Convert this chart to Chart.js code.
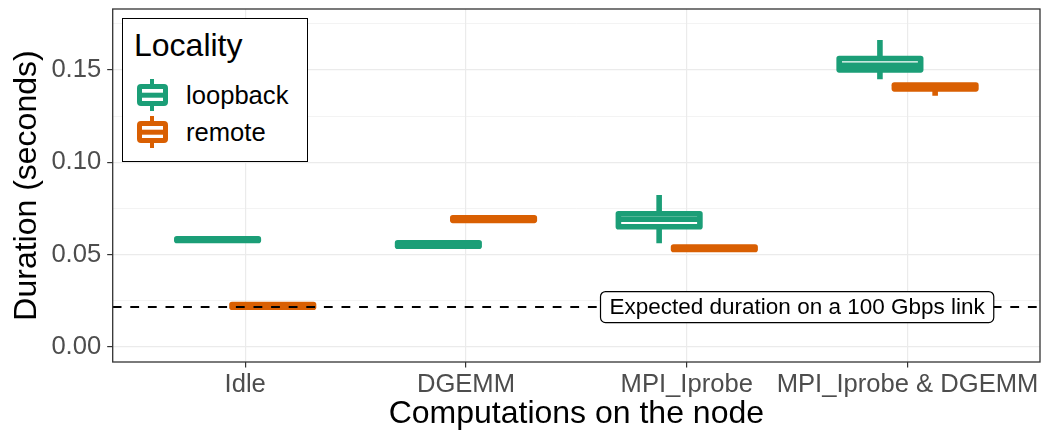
<!DOCTYPE html>
<html>
<head>
<meta charset="utf-8">
<title>Duration by computation and locality</title>
<script src="https://cdn.jsdelivr.net/npm/chart.js@4.4.1/dist/chart.umd.min.js"></script>
<style>
  html, body { margin: 0; padding: 0; background: #fff; }
  #wrap { position: relative; width: 1051px; height: 436px; font-family: "Liberation Sans", Arial, sans-serif; }
  #chart { position: absolute; left: 0; top: 0; }

  /* legend sits inside the panel, top-left */
  .legend { position: absolute; left: 122px; top: 18px; width: 186px; height: 144px; box-sizing: border-box; border: 1.6px solid #000; background: #fff; }
  .legend-title { position: absolute; left: 11px; top: 10px; font-size: 32px; line-height: 32px; color: #000; }
  .legend-row { position: absolute; left: 0; width: 100%; height: 32px; }
  .key-whisker { position: absolute; left: 26.5px; top: 0; width: 4.4px; height: 32px; }
  .key-box { position: absolute; left: 13.5px; top: 5px; width: 31px; height: 22px; box-sizing: border-box; border: 5.4px solid; border-radius: 4px; background: #fff; }
  .key-box::after { content: ''; position: absolute; left: 0; right: 0; top: 50%; height: 4.6px; transform: translateY(-50%); background: currentColor; }
  .legend-label { position: absolute; left: 63px; top: 0; font-size: 25.6px; line-height: 32px; color: #000; }
</style>
</head>
<body>
<div id="wrap">
  <canvas id="chart" width="1051" height="436"></canvas>
  <div class="legend" id="legend">
    <div class="legend-title">Locality</div>
  </div>
</div>

<script>
// categories on the x axis
const categories = ['Idle', 'DGEMM', 'MPI_Iprobe', 'MPI_Iprobe & DGEMM'];
const seriesNames = ['loopback', 'remote'];
const seriesColors = ['#1B9E77', '#D95F02'];

// box statistics per category (seconds)
const loopbackLow    = [0.0573, 0.0542, 0.0561, 0.1450];
const loopbackQ1     = [0.0576, 0.0545, 0.0650, 0.1501];
const loopbackMedian = [0.0580, 0.0554, 0.0691, 0.1526];
const loopbackQ3     = [0.0585, 0.0563, 0.0721, 0.1563];
const loopbackHigh   = [0.0588, 0.0566, 0.0823, 0.1663];

const remoteLow    = [0.0211, 0.0682, 0.0524, 0.1361];
const remoteQ1     = [0.0214, 0.0685, 0.0527, 0.1398];
const remoteMedian = [0.0222, 0.0692, 0.0534, 0.1408];
const remoteQ3     = [0.0229, 0.0699, 0.0540, 0.1418];
const remoteHigh   = [0.0232, 0.0702, 0.0543, 0.1421];

const yMajorTicks = [0, 0.05, 0.10, 0.15];
const yMinorTicks = [0.025, 0.075, 0.125, 0.175];

const expectedDuration = 0.0215;
const expectedLabel = 'Expected duration on a 100 Gbps link';

const FONT = '"Liberation Sans", Arial, sans-serif';
const LINE_W = 5.6;      // box outline width, like ggplot's size
const DODGE = 0.125;     // half the dodge distance, in category units

const stats = [
  { low: loopbackLow, q1: loopbackQ1, med: loopbackMedian, q3: loopbackQ3, high: loopbackHigh },
  { low: remoteLow, q1: remoteQ1, med: remoteMedian, q3: remoteQ3, high: remoteHigh },
];

/* legend rows (html, drawn over the canvas) */
function buildLegend() {
  const legend = document.getElementById('legend');
  seriesNames.forEach((name, i) => {
    const row = document.createElement('div');
    row.className = 'legend-row';
    row.style.top = (60 + i * 37) + 'px';
    row.innerHTML =
      `<div class="key-whisker" style="background:${seriesColors[i]}"></div>` +
      `<div class="key-box" style="color:${seriesColors[i]};border-color:${seriesColors[i]}"></div>` +
      `<div class="legend-label">${name}</div>`;
    legend.appendChild(row);
  });
}

/* whiskers, outline and median drawn on top of the floating bars */
const boxplotGlyphs = {
  id: 'boxplotGlyphs',
  afterDatasetsDraw(chart) {
    const { ctx, chartArea } = chart;
    const y = chart.scales.y;
    ctx.save();
    ctx.beginPath();
    ctx.rect(chartArea.left, chartArea.top, chartArea.width, chartArea.height);
    ctx.clip();
    chart.data.datasets.forEach((ds, di) => {
      const s = stats[di];
      const meta = chart.getDatasetMeta(di);
      ctx.strokeStyle = ds.borderColor;
      ctx.lineWidth = LINE_W;
      meta.data.forEach((bar, i) => {
        const left = bar.x - bar.width / 2;
        const right = bar.x + bar.width / 2;
        const pLow = y.getPixelForValue(s.low[i]);
        const pHigh = y.getPixelForValue(s.high[i]);
        const pQ1 = y.getPixelForValue(s.q1[i]);
        const pQ3 = y.getPixelForValue(s.q3[i]);
        const pMed = y.getPixelForValue(s.med[i]);

        ctx.lineCap = 'butt';
        ctx.beginPath();
        ctx.moveTo(bar.x, pQ3);
        ctx.lineTo(bar.x, pHigh);
        ctx.moveTo(bar.x, pQ1);
        ctx.lineTo(bar.x, pLow);
        ctx.stroke();

        ctx.lineJoin = 'round';
        ctx.beginPath();
        ctx.rect(left, pQ3, right - left, pQ1 - pQ3);
        ctx.stroke();

        ctx.beginPath();
        ctx.moveTo(left, pMed);
        ctx.lineTo(right, pMed);
        ctx.stroke();
      });
    });
    ctx.restore();
  },
};

/* dashed reference line with its label, then the panel border */
const referenceLine = {
  id: 'referenceLine',
  afterDatasetsDraw(chart) {
    const { ctx, chartArea } = chart;
    const x = chart.scales.x;
    const py = chart.scales.y.getPixelForValue(expectedDuration);
    ctx.save();
    ctx.strokeStyle = '#000';
    ctx.lineWidth = 2;
    ctx.setLineDash([8.8, 8.8]);
    ctx.beginPath();
    ctx.moveTo(chartArea.left, py);
    ctx.lineTo(chartArea.right, py);
    ctx.stroke();
    ctx.setLineDash([]);

    ctx.font = `22.5px ${FONT}`;
    const w = ctx.measureText(expectedLabel).width + 18;
    const h = 31;
    const cx = x.getPixelForValue(3.5);
    ctx.beginPath();
    ctx.roundRect(cx - w / 2, py - h / 2, w, h, 5);
    ctx.fillStyle = '#fff';
    ctx.fill();
    ctx.lineWidth = 1.2;
    ctx.stroke();
    ctx.fillStyle = '#000';
    ctx.textAlign = 'center';
    ctx.textBaseline = 'middle';
    ctx.fillText(expectedLabel, cx, py + 1);
    ctx.restore();
  },
  afterDraw(chart) {
    const { ctx, chartArea } = chart;
    ctx.save();
    ctx.strokeStyle = '#333';
    ctx.lineWidth = 1.3;
    ctx.strokeRect(chartArea.left, chartArea.top, chartArea.width, chartArea.height);
    ctx.restore();
  },
};

function makeDataset(i, s) {
  const offset = i === 0 ? -DODGE : DODGE;
  return {
    label: seriesNames[i],
    data: categories.map((c, k) => ({ x: k + 1 + offset, y: [s.q1[k], s.q3[k]] })),
    backgroundColor: '#fff',
    borderColor: seriesColors[i],
    borderWidth: 0,
    barThickness: 81.5,
    grouped: false,
  };
}

function initChart() {
  const ctx = document.getElementById('chart');
  new Chart(ctx, {
    type: 'bar',
    data: { datasets: stats.map((s, i) => makeDataset(i, s)) },
    options: {
      responsive: false,
      animation: false,
      devicePixelRatio: 1,
      layout: { padding: { top: 9, right: 11, left: 0, bottom: 0 } },
      plugins: {
        legend: { display: false },
        tooltip: { enabled: false },
      },
      scales: {
        x: {
          type: 'linear',
          min: 0.4,
          max: 4.6,
          offset: false,
          afterBuildTicks: (scale) => {
            scale.ticks = categories.map((c, k) => ({ value: k + 1 }));
          },
          afterFit: (scale) => {
            scale.height = 74;
            scale.paddingLeft = 0;
            scale.paddingRight = 0;
          },
          border: { display: false },
          grid: { offset: false, color: '#EBEBEB', lineWidth: 1.2, tickColor: '#333', tickWidth: 1.2, tickLength: 5.5 },
          ticks: {
            callback: (v) => categories[Math.round(v) - 1],
            color: '#4D4D4D',
            font: { family: FONT, size: 25.6 },
            padding: 2,
            maxRotation: 0,
            autoSkip: false,
          },
          title: {
            display: true,
            text: 'Computations on the node',
            color: '#000',
            font: { family: FONT, size: 32, lineHeight: 1 },
            padding: { top: 0, bottom: 6 },
          },
        },
        y: {
          min: -0.0083,
          max: 0.1831,
          afterBuildTicks: (scale) => {
            scale.ticks = yMajorTicks.concat(yMinorTicks).map((v) => ({ value: v }));
          },
          afterFit: (scale) => {
            scale.width = 112.7;
            scale.paddingTop = 0;
            scale.paddingBottom = 0;
          },
          border: { display: false },
          grid: {
            color: '#EBEBEB',
            lineWidth: (c) => (yMajorTicks.includes(c.tick.value) ? 1.2 : 0.6),
            tickColor: (c) => (yMajorTicks.includes(c.tick.value) ? '#333' : 'rgba(0,0,0,0)'),
            tickWidth: 1.2,
            tickLength: 5.5,
          },
          ticks: {
            callback: (v) => (yMajorTicks.includes(v) ? v.toFixed(2) : ''),
            color: '#4D4D4D',
            font: { family: FONT, size: 25.6 },
            padding: 6,
            autoSkip: false,
          },
          title: {
            display: true,
            text: 'Duration (seconds)',
            color: '#000',
            font: { family: FONT, size: 32, lineHeight: 1 },
            padding: { top: 11, bottom: 0 },
          },
        },
      },
    },
    plugins: [boxplotGlyphs, referenceLine],
  });
}

document.addEventListener('DOMContentLoaded', () => {
  buildLegend();
  initChart();
});
</script>
</body>
</html>
